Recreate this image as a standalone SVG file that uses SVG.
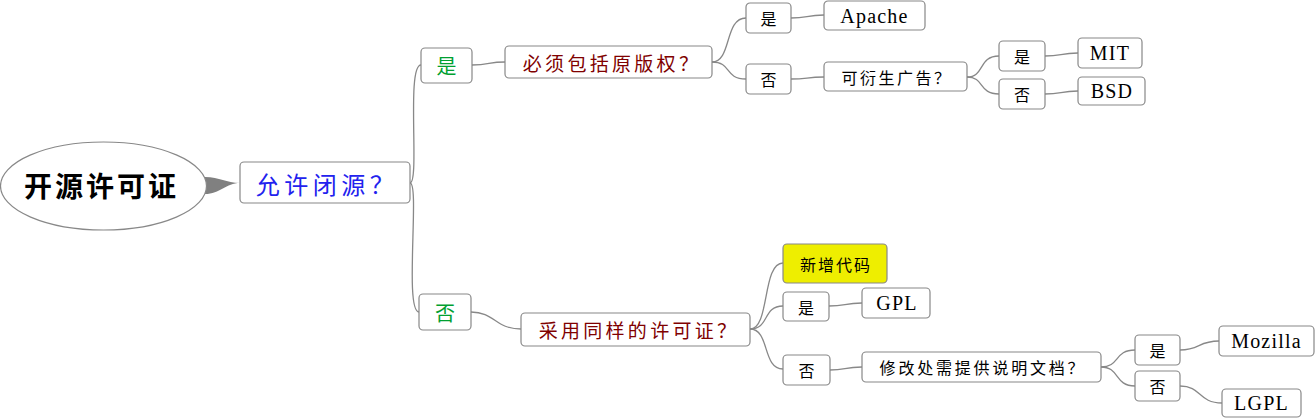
<svg xmlns="http://www.w3.org/2000/svg" width="1316" height="418" viewBox="0 0 1316 418">
<style>
.b{fill:#fff;stroke:#888;stroke-width:1.2}
.c{fill:none;stroke:#888;stroke-width:1.3}
text{text-anchor:middle;dominant-baseline:central;font-family:"Noto Sans CJK SC","Liberation Serif",serif}
.zh{font-family:"Noto Sans CJK SC",sans-serif}
.en{font-family:"Liberation Serif","Noto Sans CJK SC",serif;font-size:20px;letter-spacing:1.2px}
.l1{fill:#00a030;font-size:20px}
.l2{fill:#800000;font-size:19px;letter-spacing:3.3px}
.s{font-size:16px;fill:#000}
</style>
<g id="connectors">
<path d="M205,177 C220,177 226,183 240,183 C226,183 220,194 205,194 Z" fill="#808080"/>
<path class="c" d="M410,183 C420,183 406,65 421,65"/>
<path class="c" d="M410,183 C420,183 404,312 419,312"/>
<path class="c" d="M472,65 C490,65 488,62 505,62"/>
<path class="c" d="M712,62 C732,62 724,18 746,18"/>
<path class="c" d="M712,62 C732,62 724,79 746,79"/>
<path class="c" d="M791,18 C808,18 806,15 824,15"/>
<path class="c" d="M791,79 C808,79 806,77 824,77"/>
<path class="c" d="M967,77 C985,77 978,56 999,56"/>
<path class="c" d="M967,77 C985,77 978,94 999,94"/>
<path class="c" d="M1045,56 C1062,56 1060,53 1078,53"/>
<path class="c" d="M1045,94 C1062,94 1060,91 1078,91"/>
<path class="c" d="M471,312 C495,312 495,329 521,329"/>
<path class="c" d="M750,329 C770,329 762,263 783,263"/>
<path class="c" d="M750,329 C770,329 762,306 783,306"/>
<path class="c" d="M750,329 C770,329 762,369 783,369"/>
<path class="c" d="M829,306 C846,306 844,303 862,303"/>
<path class="c" d="M830,370 C846,370 844,367 862,367"/>
<path class="c" d="M1101,367 C1120,367 1114,350 1135,350"/>
<path class="c" d="M1101,367 C1120,367 1114,386 1135,386"/>
<path class="c" d="M1180,350 C1200,350 1198,341 1219,341"/>
<path class="c" d="M1180,386 C1202,386 1198,403 1222,403"/>
</g>
<g id="root">
<ellipse cx="103.5" cy="186" rx="103" ry="44" fill="#fff" stroke="#888" stroke-width="1.2"/>
<text x="101.5" y="185" class="zh" style="font-size:28px;font-weight:bold;letter-spacing:3px;fill:#000">开源许可证</text>
</g>
<g id="n_closed">
<rect class="b" x="240" y="162" width="170" height="41" rx="4"/>
<text x="327" y="183" class="zh" style="font-size:24px;fill:#2222ee;letter-spacing:4.5px">允许闭源？</text>
</g>
<g id="n_yes1">
<rect class="b" x="421" y="48" width="51" height="35" rx="4"/>
<text x="446.5" y="65" class="l1">是</text>
</g>
<g id="n_no1">
<rect class="b" x="419" y="294" width="52" height="36" rx="4"/>
<text x="445" y="312" class="l1">否</text>
</g>
<g id="n_copyright">
<rect class="b" x="505" y="46" width="207" height="32" rx="4"/>
<text x="612" y="62" class="l2">必须包括原版权？</text>
</g>
<g id="n_same">
<rect class="b" x="521" y="313" width="229" height="33" rx="4"/>
<text x="639" y="329" class="l2">采用同样的许可证？</text>
</g>
<g id="n_yes2a">
<rect class="b" x="746" y="3" width="45" height="30" rx="4"/>
<text x="768.5" y="18" class="s">是</text>
</g>
<g id="n_apache">
<rect class="b" x="824" y="1" width="101" height="29" rx="4"/>
<text x="874.5" y="15.5" class="en">Apache</text>
</g>
<g id="n_no2a">
<rect class="b" x="746" y="64" width="45" height="30" rx="4"/>
<text x="768.5" y="79" class="s">否</text>
</g>
<g id="n_adv">
<rect class="b" x="824" y="62" width="143" height="29" rx="4"/>
<text x="897" y="76.5" class="s" style="letter-spacing:2.5px">可衍生广告？</text>
</g>
<g id="n_yes3a">
<rect class="b" x="999" y="41" width="46" height="30" rx="4"/>
<text x="1022" y="56" class="s">是</text>
</g>
<g id="n_mit">
<rect class="b" x="1078" y="38" width="64" height="30" rx="4"/>
<text x="1110" y="53" class="en">MIT</text>
</g>
<g id="n_no3a">
<rect class="b" x="999" y="79" width="46" height="30" rx="4"/>
<text x="1022" y="94" class="s">否</text>
</g>
<g id="n_bsd">
<rect class="b" x="1078" y="77" width="67" height="28" rx="4"/>
<text x="1112" y="91" class="en">BSD</text>
</g>
<g id="n_newcode">
<rect x="783" y="244" width="104" height="39" rx="4" fill="#eeee00" stroke="#888" stroke-width="1.2"/>
<text x="836" y="263.5" class="s" style="letter-spacing:2px">新增代码</text>
</g>
<g id="n_yes2b">
<rect class="b" x="783" y="292" width="46" height="29" rx="4"/>
<text x="806" y="306.5" class="s">是</text>
</g>
<g id="n_gpl">
<rect class="b" x="862" y="288" width="68" height="30" rx="4"/>
<text x="897" y="303" class="en">GPL</text>
</g>
<g id="n_no2b">
<rect class="b" x="783" y="355" width="47" height="30" rx="4"/>
<text x="806.5" y="370" class="s">否</text>
</g>
<g id="n_doc">
<rect class="b" x="862" y="352" width="239" height="30" rx="4"/>
<text x="983" y="367" class="s" style="letter-spacing:2.8px">修改处需提供说明文档？</text>
</g>
<g id="n_yes3b">
<rect class="b" x="1135" y="335" width="45" height="30" rx="4"/>
<text x="1157.5" y="350" class="s">是</text>
</g>
<g id="n_mozilla">
<rect class="b" x="1219" y="326" width="95" height="30" rx="4"/>
<text x="1266.5" y="341" class="en">Mozilla</text>
</g>
<g id="n_no3b">
<rect class="b" x="1135" y="371" width="45" height="30" rx="4"/>
<text x="1157.5" y="386" class="s">否</text>
</g>
<g id="n_lgpl">
<rect class="b" x="1222" y="389" width="79" height="28" rx="4"/>
<text x="1261.5" y="403" class="en">LGPL</text>
</g>
</svg>
